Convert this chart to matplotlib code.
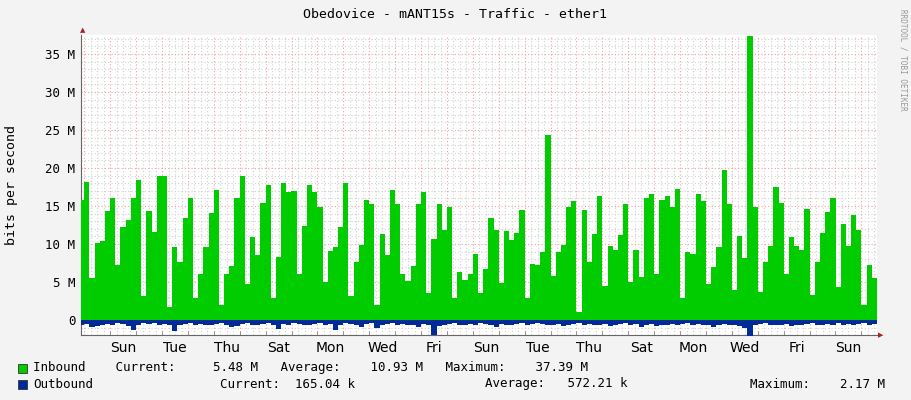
import numpy as np
import matplotlib.pyplot as plt

# inbound traffic, Mbit/s
inbound = [15.8, 18.2, 5.5, 10.1, 10.4, 14.3, 16.0, 7.2, 12.3, 13.2,
           16.0, 18.4, 3.2, 14.3, 11.6, 19.0, 19.0, 1.75, 9.6, 7.7,
           13.4, 16.0, 2.9, 6.0, 9.6, 14.1, 17.1, 2.0, 6.0, 7.1,
           16.0, 19.0, 4.8, 10.9, 8.6, 15.4, 17.8, 2.9, 8.3, 18.0,
           16.8, 17.0, 6.1, 12.4, 17.8, 16.8, 14.9, 5.0, 9.1, 9.6,
           12.3, 18.0, 3.1, 7.7, 9.9, 15.8, 15.2, 2.0, 11.3, 8.6,
           17.1, 15.2, 6.0, 5.2, 7.1, 15.3, 16.8, 3.5, 10.7, 15.2,
           11.9, 14.9, 2.9, 6.3, 5.3, 6.0, 8.7, 3.5, 6.7, 13.4,
           11.8, 4.9, 11.7, 10.5, 11.5, 14.5, 2.9, 7.4, 7.3, 8.9,
           24.3, 5.8, 8.9, 9.9, 14.9, 15.7, 1.1, 14.5, 7.7, 11.3,
           16.3, 4.5, 9.7, 9.2, 11.2, 15.2, 5.0, 9.2, 5.7, 16.0,
           16.6, 6.0, 15.8, 16.3, 14.9, 17.2, 2.9, 8.9, 8.7, 16.6,
           15.7, 4.7, 7.0, 9.6, 19.7, 15.2, 3.9, 11.0, 8.2, 37.39,
           14.9, 3.7, 7.7, 9.7, 17.5, 15.4, 6.0, 10.9, 9.7, 9.2,
           14.6, 3.3, 7.6, 11.5, 14.2, 16.0, 4.4, 12.6, 9.7, 13.8,
           11.8, 2.0, 7.3, 5.48]
# outbound traffic, Mbit/s (drawn below zero)
outbound = [0.6, 0.5, 0.9, 0.8, 0.6, 0.5, 0.6, 0.4, 0.5, 0.8,
            1.3, 0.6, 0.4, 0.5, 0.4, 0.6, 0.5, 0.6, 1.5, 0.6,
            0.5, 0.4, 0.6, 0.5, 0.7, 0.6, 0.5, 0.4, 0.6, 0.9,
            0.8, 0.5, 0.4, 0.6, 0.7, 0.5, 0.4, 0.6, 1.2, 0.5,
            0.6, 0.4, 0.5, 0.6, 0.7, 0.5, 0.4, 0.6, 0.5, 1.3,
            0.6, 0.4, 0.5, 0.6, 0.9, 0.5, 0.4, 1.0, 0.6, 0.5,
            0.4, 0.6, 0.5, 0.7, 0.6, 0.9, 0.5, 0.6, 2.0, 0.8,
            0.6, 0.5, 0.4, 0.6, 0.7, 0.5, 0.6, 0.4, 0.5, 0.6,
            0.9, 0.5, 0.6, 0.7, 0.5, 0.4, 0.6, 0.5, 0.4, 0.5,
            0.7, 0.6, 0.5, 0.8, 0.6, 0.5, 0.4, 0.6, 0.5, 0.7,
            0.6, 0.5, 0.8, 0.7, 0.5, 0.4, 0.6, 0.5, 0.9, 0.6,
            0.5, 0.8, 0.7, 0.6, 0.5, 0.7, 0.5, 0.4, 0.6, 0.5,
            0.7, 0.6, 0.9, 0.6, 0.5, 0.7, 0.6, 0.8, 1.1, 2.17,
            0.6, 0.5, 0.4, 0.6, 0.7, 0.6, 0.5, 0.8, 0.7, 0.6,
            0.5, 0.4, 0.6, 0.7, 0.5, 0.6, 0.4, 0.6, 0.5, 0.6,
            0.5, 0.4, 0.6, 0.5]
day_labels = ["Sun", "Tue", "Thu", "Sat", "Mon", "Wed", "Fri",
              "Sun", "Tue", "Thu", "Sat", "Mon", "Wed", "Fri", "Sun"]
y_ticks = [0, 5, 10, 15, 20, 25, 30, 35]

W, H = 911, 400
px_day = 25.9
x0_px = 110.3          # Sunday midnight in pixels
left_px, right_px, top_px, bot_px = 81, 877, 35, 335

def pxday(p):
    return (p - x0_px) / px_day

xmin, xmax = pxday(left_px), pxday(right_px)
data_start, data_end = pxday(79), pxday(877)

fig = plt.figure(figsize=(W / 100, H / 100), dpi=100, facecolor="#f3f3f3")
ax = fig.add_axes([left_px / W, 1 - bot_px / H, (right_px - left_px) / W,
                   (bot_px - top_px) / H])
ax.set_facecolor("white")

n = len(inbound)
edges = np.linspace(data_start, data_end, n + 1)
inb = np.append(inbound, inbound[-1])
outb = -np.append(outbound, outbound[-1])
ax.fill_between(edges, 0, inb, step="post", color="#00cc00", lw=0, zorder=3)
ax.fill_between(edges, 0, outb, step="post", color="#002a97", lw=0, zorder=3)

ax.set_xlim(xmin, xmax)
ax.set_ylim(-1.97, 37.5)

mono = "DejaVu Sans Mono"
# grids
for d in np.arange(np.ceil(xmin * 4) / 4, xmax, 0.25):
    major = abs(d - round(d)) < 1e-6
    ax.axvline(d, color="#f0a0a0" if major else "#d0d0d0", ls=(0, (1, 2)),
               lw=0.8, zorder=1)
for v in range(-1, 38):
    ax.axhline(v, color="#f0a0a0" if v % 5 == 0 else "#d0d0d0",
               ls=(0, (1, 2)), lw=0.8, zorder=1)

ax.set_yticks(y_ticks)
ax.set_yticklabels(["0"] + [f"{v} M" for v in y_ticks[1:]], family=mono,
                   fontsize=9)
ax.set_xticks([0.5 + 2 * i for i in range(len(day_labels))])
ax.set_xticklabels(day_labels, family=mono, fontsize=9)
ax.tick_params(length=0, pad=4)
ax.set_xticks(np.arange(0, 30), minor=True)
ax.tick_params(which="minor", length=3, direction="in", color="#888888")
for s in ["top", "right"]:
    ax.spines[s].set_visible(False)
ax.spines["left"].set_color("#666666")
ax.spines["bottom"].set_color("#666666")
ax.spines["bottom"].set_position(("data", -1.97))

# axis arrows
fig.text(left_px / W + 0.0015, 1 - 30 / H, "▲", color="#aa2222", fontsize=5,
         ha="center", va="center")
fig.text(881 / W, 1 - bot_px / H, "▶", color="#aa2222", fontsize=5,
         ha="center", va="center")

fig.text(455 / W, 1 - 14 / H, "Obedovice - mANT15s - Traffic - ether1",
         family=mono, fontsize=9.5, ha="center", va="center")
fig.text(12 / W, 1 - 185 / H, "bits per second", family=mono, fontsize=9.5,
         rotation=90, ha="center", va="center")
fig.text(903 / W, 1 - 60 / H, "RRDTOOL / TOBI OETIKER", family=mono,
         fontsize=5.5, rotation=270, ha="center", va="center", color="#999999")

# legend
for y, col in [(368, "#00cc00"), (384, "#002a97")]:
    fig.patches.append(plt.Rectangle((18 / W, 1 - (y + 5) / H), 9 / W, 9 / H,
                                     transform=fig.transFigure, fc=col,
                                     ec="#333333", lw=0.6))
fig.text(33 / W, 1 - 368 / H,
         "Inbound    Current:     5.48 M   Average:    10.93 M   Maximum:    37.39 M",
         family=mono, fontsize=9, va="center")
fig.text(33 / W, 1 - 384 / H, "Outbound", family=mono, fontsize=9, va="center")
fig.text(220 / W, 1 - 384 / H, "Current:  165.04 k", family=mono, fontsize=9,
         va="center")
fig.text(485 / W, 1 - 384 / H, "Average:   572.21 k", family=mono, fontsize=9,
         va="center")
fig.text(750 / W, 1 - 384 / H, "Maximum:    2.17 M", family=mono, fontsize=9,
         va="center")

fig.savefig("out.png", dpi=100, facecolor=fig.get_facecolor())
